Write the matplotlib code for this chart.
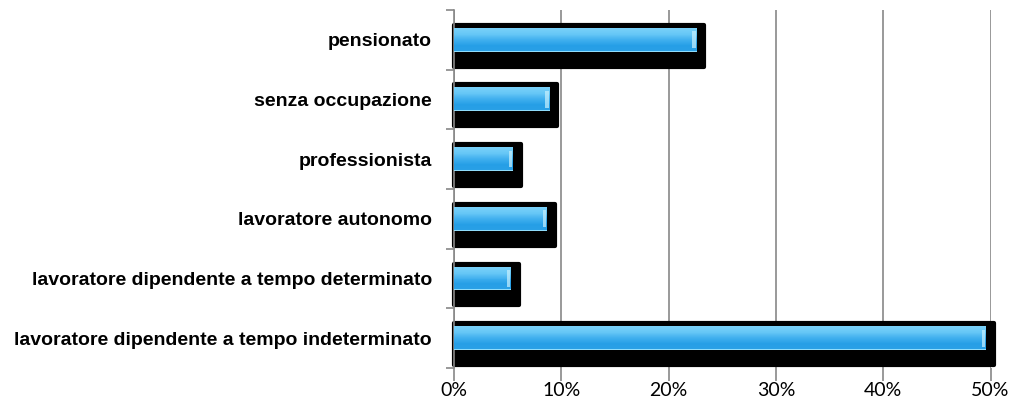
import matplotlib.pyplot as plt
import numpy as np
from matplotlib.colors import LinearSegmentedColormap

categories = ['pensionato',
              'senza occupazione',
              'professionista',
              'lavoratore autonomo',
              'lavoratore dipendente a tempo determinato',
              'lavoratore dipendente a tempo indeterminato']
values = [22.6, 8.9, 5.5, 8.7, 5.3, 49.6]
xticks = [0, 10, 20, 30, 40, 50]

fig = plt.figure(figsize=(10.16, 4.09), dpi=100)
ax = fig.add_axes([0.447, 0.100, 0.528, 0.876])

y = np.arange(len(categories))
vals = np.array(values)

# black "shadow" bars behind
ax.barh(y + 0.1, vals + 0.7, height=0.7, color='black',
        edgecolor='black', linewidth=3, joinstyle='round', zorder=2, clip_on=False)

# blue bars: stacked thin strips for the gradient, light on top, darker below,
# thin light rim at the very bottom
cmap = LinearSegmentedColormap.from_list('b', ['#78d0f8', '#66c7f6', '#40afee', '#259ee6', '#2aa0e6'])
h = 0.4
n = 24
for k in range(n):
    c = cmap(k / (n - 1))
    if k == n - 1:
        c = '#8fdcfb'
    ax.barh(y - h / 2 + (k + 0.5) * h / n, vals, height=h / n * 1.05, color=c,
            linewidth=0, zorder=3)

# small highlight at the bar end
ax.barh(y, np.full(len(vals), 0.3), left=vals - 0.4, height=h * 0.7,
        color='#c8f0fd', alpha=0.7, linewidth=0, zorder=4)

ax.set_xlim(0, 50)
ax.set_ylim(len(categories) - 0.5, -0.5)
ax.set_xticks(xticks)
ax.set_xticklabels([f'{v}%' for v in xticks], fontsize=14, family='Lato')
ax.set_yticks(y)
ax.set_yticklabels(categories, fontsize=14, fontweight='bold', family='Liberation Sans')
ax.set_yticks(np.arange(len(categories) + 1) - 0.5, minor=True)
ax.tick_params(axis='y', which='major', length=0, pad=16)
ax.tick_params(axis='y', which='minor', length=6, color='#888888', width=1.2, direction='out')
ax.tick_params(axis='x', length=9, color='#888888', width=1.2, direction='out', pad=1)
ax.xaxis.grid(True, color='#888888', linewidth=1.2, zorder=0)
ax.set_axisbelow(True)
for s in ['top', 'right', 'bottom']:
    ax.spines[s].set_visible(False)
ax.spines['left'].set_color('#888888')
ax.spines['left'].set_linewidth(1.2)

fig.savefig('out.png', dpi=100)
